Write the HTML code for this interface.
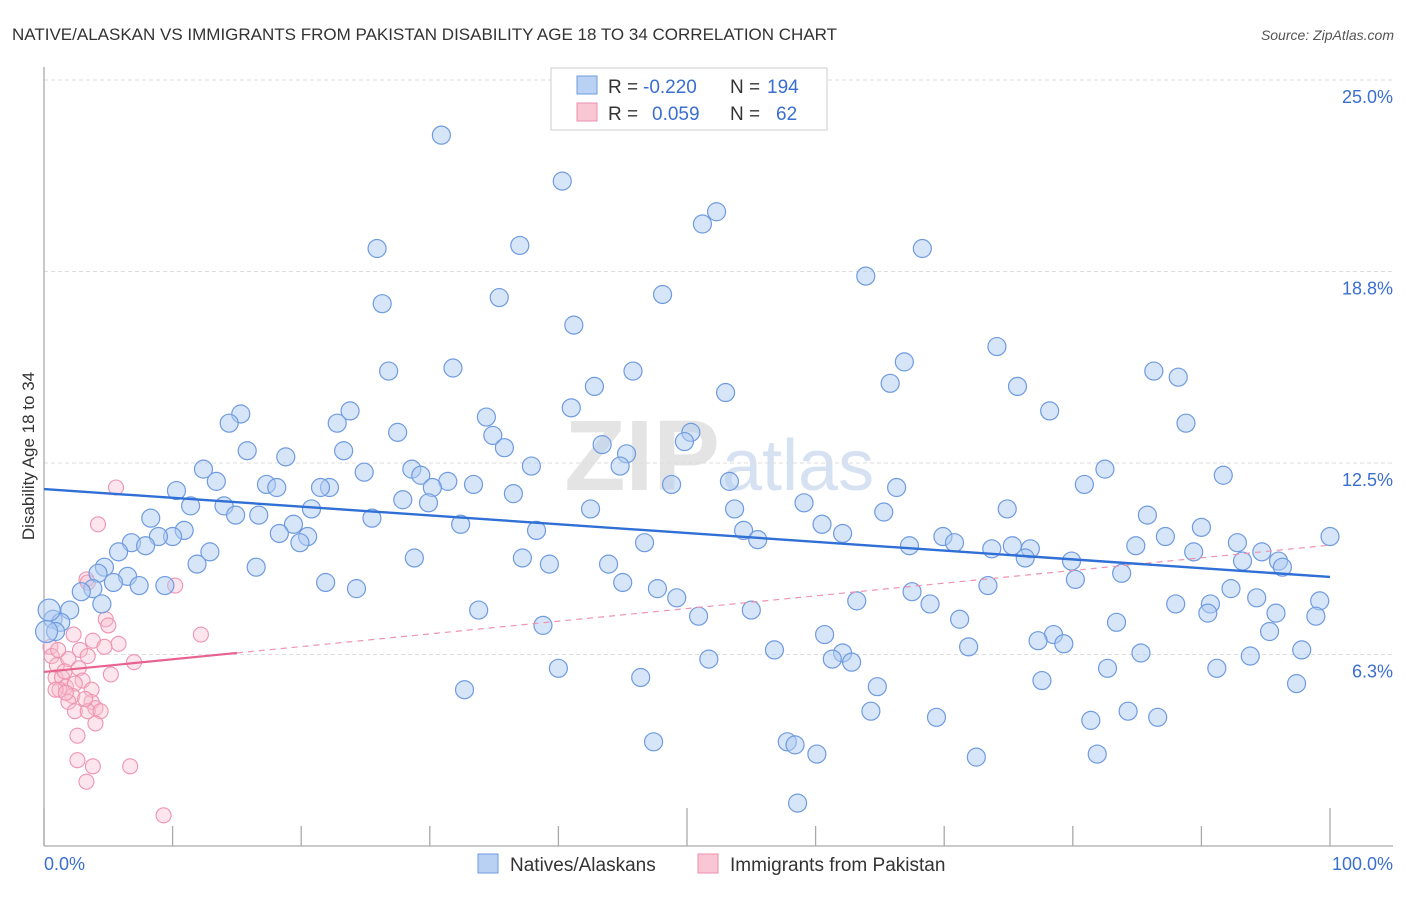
<!DOCTYPE html>
<html><head><meta charset="utf-8"><style>
body{margin:0;background:#fff;font-family:"Liberation Sans",sans-serif;}
svg text{font-family:"Liberation Sans",sans-serif;}
</style></head><body>
<svg id="chart" width="1406" height="892" viewBox="0 0 1406 892">
<text x="12" y="40" font-size="17" fill="#333">NATIVE/ALASKAN VS IMMIGRANTS FROM PAKISTAN DISABILITY AGE 18 TO 34 CORRELATION CHART</text>
<text x="1394" y="40" font-size="14" fill="#555" font-style="italic" text-anchor="end">Source: ZipAtlas.com</text>
<text x="720" y="490" font-size="100" fill="#e4e4e4" text-anchor="end" font-family="Liberation Serif" font-weight="bold">ZIP</text>
<text x="722" y="490" font-size="72" fill="#d6e2f2">atlas</text>
<text transform="translate(34,456) rotate(-90)" font-size="17" fill="#333" text-anchor="middle">Disability Age 18 to 34</text>
<g id="grid"></g><g id="marks"></g>
<g>
<rect x="551" y="68" width="276" height="62" fill="#fff" stroke="#ccc"/>
<rect x="577" y="76" width="20" height="18" fill="#b9d1f3" stroke="#6f9be0"/>
<text x="608" y="93" font-size="19" fill="#333">R = </text><text x="643" y="93" font-size="19" fill="#3a6fd0">-0.220</text>
<text x="730" y="93" font-size="19" fill="#333">N = </text><text x="767" y="93" font-size="19" fill="#3a6fd0">194</text>
<rect x="577" y="103" width="20" height="18" fill="#f9c6d4" stroke="#ee8fab"/>
<text x="608" y="120" font-size="19" fill="#333">R = </text><text x="652" y="120" font-size="19" fill="#3a6fd0">0.059</text>
<text x="730" y="120" font-size="19" fill="#333">N = </text><text x="776" y="120" font-size="19" fill="#3a6fd0">62</text>
</g>
<g>
<rect x="478" y="854" width="20" height="19" fill="#b9d1f3" stroke="#6f9be0"/>
<text x="510" y="871" font-size="19" fill="#333">Natives/Alaskans</text>
<rect x="698" y="854" width="20" height="19" fill="#f9c6d4" stroke="#ee8fab"/>
<text x="730" y="871" font-size="19" fill="#333">Immigrants from Pakistan</text>
</g>
</svg>
<script>
const yTicks=[6.25,12.5,18.75,25];
const yTickLabels=["6.3%","12.5%","18.8%","25.0%"];
const xTicks=[0,10,20,30,40,50,60,70,80,90,100];
const xEndLabels=["0.0%","100.0%"];
const blueX=[30.9,40.3,52.3,51.2,25.9,37.0,68.3,63.9,35.4,48.1,26.3,41.2,74.1,66.9,31.8,26.8,45.8,86.3,88.2,42.8,65.8,75.7,53.0,41.0,78.2,23.8,15.3,14.4,22.8,34.4,88.8,27.5,34.9,50.3,49.8,43.4,15.8,23.3,35.8,18.8,45.3,44.8,12.4,24.9,28.6,37.9,29.3,31.4,82.5,91.7,13.4,17.3,18.1,33.4,48.8,53.3,80.9,66.3,22.2,21.5,30.2,10.3,36.5,27.9,29.9,11.4,14.0,20.8,59.1,14.9,16.7,8.3,25.5,42.5,53.7,65.3,74.9,85.8,32.4,60.5,19.4,10.9,38.3,54.4,90.0,18.3,20.5,10.0,62.1,69.9,87.2,100.0,6.8,8.9,7.9,19.9,46.7,55.5,67.3,70.8,84.9,92.8,5.8,12.9,73.7,75.3,76.7,89.4,94.7,76.3,79.9,93.2,96.0,96.3,11.9,28.8,37.2,39.3,43.9,4.7,16.5,83.8,4.2,6.5,80.2,5.4,21.9,73.4,45.0,7.4,9.4,3.8,24.3,47.7,92.3,2.9,67.5,49.2,94.3,63.2,68.9,99.2,4.5,88.0,90.7,55.0,2.0,33.8,90.5,95.8,50.9,98.9,71.2,83.4,0.7,1.3,38.8,95.3,60.7,0.9,78.5,77.3,79.3,56.8,71.9,62.1,85.3,97.8,93.8,51.7,61.3,62.8,40.0,82.7,91.2,46.4,77.6,97.4,64.8,32.7,64.3,84.3,69.4,86.6,81.4,47.4,57.8,58.4,60.1,72.5,81.9,58.6,0.4,0.2];
const blueY=[23.2,21.7,20.7,20.3,19.5,19.6,19.5,18.6,17.9,18.0,17.7,17.0,16.3,15.8,15.6,15.5,15.5,15.5,15.3,15.0,15.1,15.0,14.8,14.3,14.2,14.2,14.1,13.8,13.8,14.0,13.8,13.5,13.4,13.5,13.2,13.1,12.9,12.9,13.0,12.7,12.8,12.4,12.3,12.2,12.3,12.4,12.1,11.9,12.3,12.1,11.9,11.8,11.7,11.8,11.8,11.9,11.8,11.7,11.7,11.7,11.7,11.6,11.5,11.3,11.2,11.1,11.1,11.0,11.2,10.8,10.8,10.7,10.7,11.0,11.0,10.9,11.0,10.8,10.5,10.5,10.5,10.3,10.3,10.3,10.4,10.2,10.1,10.1,10.2,10.1,10.1,10.1,9.9,10.1,9.8,9.9,9.9,10.0,9.8,9.9,9.8,9.9,9.6,9.6,9.7,9.8,9.7,9.6,9.6,9.4,9.3,9.3,9.3,9.1,9.2,9.4,9.4,9.2,9.2,9.1,9.1,8.9,8.9,8.8,8.7,8.6,8.6,8.5,8.6,8.5,8.5,8.4,8.4,8.4,8.4,8.3,8.3,8.1,8.1,8.0,7.9,8.0,7.9,7.9,7.9,7.7,7.7,7.7,7.6,7.6,7.5,7.5,7.4,7.3,7.4,7.3,7.2,7.0,6.9,7.0,6.9,6.7,6.6,6.4,6.5,6.3,6.3,6.4,6.2,6.1,6.1,6.0,5.8,5.8,5.8,5.5,5.4,5.3,5.2,5.1,4.4,4.4,4.2,4.2,4.1,3.4,3.4,3.3,3.0,2.9,3.0,1.4,7.7,7.0];
const pinkX=[5.6,4.2,3.3,3.4,10.2,4.8,5.0,12.2,2.3,3.8,5.8,0.5,2.8,3.4,4.7,0.6,1.0,1.9,7.0,2.7,5.2,0.9,1.4,3.0,1.7,2.4,1.2,3.7,2.2,3.7,1.9,4.0,2.4,3.4,4.4,4.0,2.6,2.6,3.8,6.7,3.3,9.3,0.9,1.6,3.2,1.1,1.7];
const pinkY=[11.7,10.5,8.7,8.6,8.5,7.4,7.2,6.9,6.9,6.7,6.6,6.5,6.4,6.2,6.5,6.2,5.9,6.1,6.0,5.8,5.6,5.5,5.5,5.4,5.2,5.3,5.1,5.1,4.9,4.7,4.7,4.5,4.4,4.4,4.4,4.0,3.6,2.8,2.6,2.6,2.1,1.0,5.1,5.7,4.8,6.4,5.0];
const blueTrend=[11.65,8.78];
const pinkTrend=[5.68,9.82];
const pinkSolidEnd=15;

const X0=44,X1=1330,Y0=846,YT=80;
const sx=v=>X0+(X1-X0)*v/100;
const sy=v=>Y0-(Y0-YT)*v/25;
const NS="http://www.w3.org/2000/svg";
function mk(tag,attrs,parent){const e=document.createElementNS(NS,tag);for(const k in attrs)e.setAttribute(k,attrs[k]);parent.appendChild(e);return e;}
const grid=document.getElementById('grid'),marks=document.getElementById('marks');
yTicks.forEach((t,i)=>{
 const l=mk('line',{x1:X0,x2:1393,y1:sy(t),y2:sy(t),stroke:'#ddd','stroke-dasharray':'4,3'},grid);
 
 
 const tx=mk('text',{x:1393,y:sy(t)+23,'font-size':18,fill:'#3a6fd0','text-anchor':'end'},grid);
 tx.textContent=yTickLabels[i];
 
 
});
const ax=mk('line',{x1:X0,x2:1393,y1:Y0,y2:Y0,stroke:'#aaa','stroke-width':1.3},grid);


const ay=mk('line',{x1:X0,x2:X0,y1:67,y2:Y0,stroke:'#aaa','stroke-width':1.3},grid);


xTicks.forEach((t,i)=>{
 const tk=mk('line',{x1:sx(t),x2:sx(t),y1:(t%50==0?Y0-38:Y0-20),y2:Y0,stroke:'#aaa','stroke-width':1.3},grid);
 
 
});
[[0,'start',44],[100,'end',1393]].forEach((d,i)=>{
 const tx=mk('text',{x:d[2],y:870,'font-size':18,fill:'#3a6fd0','text-anchor':d[1]},grid);
 tx.textContent=xEndLabels[i];
 
 
});
pinkX.forEach((x,i)=>{
 const c=mk('circle',{cx:sx(x),cy:sy(pinkY[i]),r:7.5,fill:'rgba(248,190,208,0.4)',stroke:'#ef93b0','stroke-width':1.1},marks);
 
 
});
blueX.forEach((x,i)=>{
 const c=mk('circle',{cx:sx(x),cy:sy(blueY[i]),r:(i>=192?11:9),fill:'rgba(176,204,242,0.5)',stroke:'#6f9be0','stroke-width':1.2},marks);
 
 
});
const pv=t=>pinkTrend[0]+(pinkTrend[1]-pinkTrend[0])*t/100;
const pd=mk('line',{x1:sx(pinkSolidEnd),y1:sy(pv(pinkSolidEnd)),x2:sx(100),y2:sy(pv(100)),stroke:'#ef93b0','stroke-width':1.2,'stroke-dasharray':'6,5'},marks);


const ps=mk('line',{x1:sx(0),y1:sy(pv(0)),x2:sx(pinkSolidEnd),y2:sy(pv(pinkSolidEnd)),stroke:'#e8628e','stroke-width':2.2},marks);


const bt=mk('line',{x1:sx(0),y1:sy(blueTrend[0]),x2:sx(100),y2:sy(blueTrend[1]),stroke:'#2f6fd6','stroke-width':2.4},marks);


</script>
</body></html>
